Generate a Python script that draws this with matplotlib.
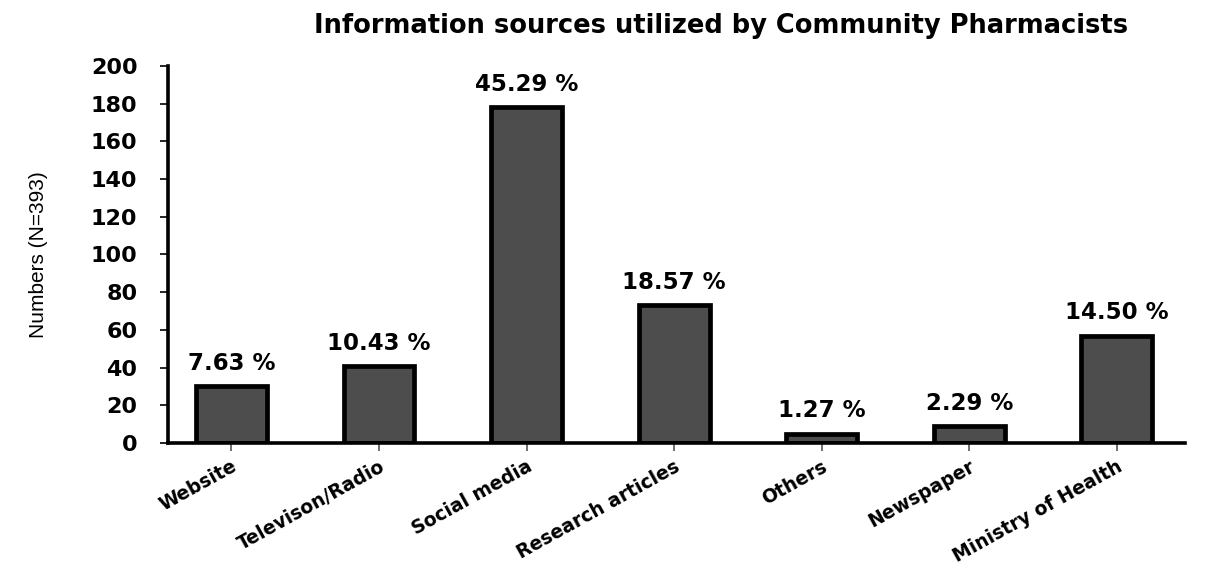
"""Information sources utilized by community pharmacists (bar chart)."""

import matplotlib.pyplot as plt
import numpy as np

categories = ["Website", "Televison/Radio", "Social media", "Research articles",
              "Others", "Newspaper", "Ministry of Health"]
counts = [30, 41, 178, 73, 5, 9, 57]
percent_labels = ["7.63 %", "10.43 %", "45.29 %", "18.57 %", "1.27 %", "2.29 %", "14.50 %"]
y_ticks = [0, 20, 40, 60, 80, 100, 120, 140, 160, 180, 200]

plt.rcParams["font.family"] = ["DejaVu Sans"]

fig = plt.figure(figsize=(12.2, 5.69), dpi=100)
ax = fig.add_axes([0.1377, 0.2215, 0.8333, 0.6625])

x = np.arange(len(categories))
ax.bar(x, counts, width=0.48, color="#4d4d4d", edgecolor="black", linewidth=3.4)

for xi, val, lab in zip(x, counts, percent_labels):
    ax.annotate(lab, (xi, val), xytext=(0, 8), textcoords="offset points",
                ha="center", va="bottom", fontsize=16.5, fontweight="bold")

ax.set_xlim(-0.43, 6.46)
ax.set_ylim(0, 200)
ax.set_yticks(y_ticks)
ax.set_yticklabels([str(t) for t in y_ticks], fontsize=16, fontweight="bold")
ax.set_xticks(x)
ax.set_xticklabels(categories, rotation=29, ha="right", rotation_mode="anchor",
                   fontsize=13.5, fontweight="bold")

for side in ["top", "right"]:
    ax.spines[side].set_visible(False)
for side in ["left", "bottom"]:
    ax.spines[side].set_linewidth(2.6)

ax.tick_params(axis="y", length=6, width=1.2, pad=16)
ax.tick_params(axis="x", length=6, width=1.2, color="#555555", pad=4)

ax.set_ylabel("Numbers (N=393)", fontsize=15, family="Liberation Sans")
ax.yaxis.set_label_coords(-0.118, 0.5)

fig.text(0.591, 0.955, "Information sources utilized by Community Pharmacists",
         ha="center", va="center", fontsize=18.5, fontweight="bold")

fig.savefig("out.png", dpi=100)
plt.close(fig)
